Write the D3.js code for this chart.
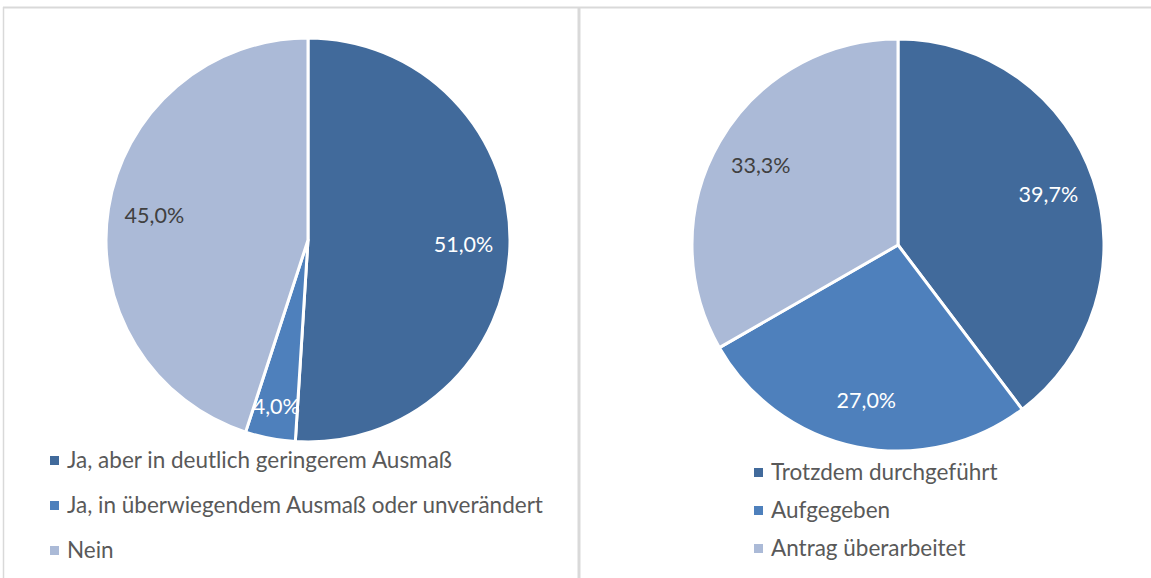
<!DOCTYPE html>
<html>
<head>
<meta charset="utf-8">
<script src="https://cdn.jsdelivr.net/npm/d3@7"></script>
<style>
  body { margin: 0; background: #ffffff; }
  svg text { font-family: Lato, "Open Sans", sans-serif; }
</style>
</head>
<body>
<div id="content"></div>
<script>
// left chart
var leftCategories = ["Ja, aber in deutlich geringerem Ausmaß", "Ja, in überwiegendem Ausmaß oder unverändert", "Nein"];
var leftValues = [51.0, 4.0, 45.0];
// right chart
var rightCategories = ["Trotzdem durchgeführt", "Aufgegeben", "Antrag überarbeitet"];
var rightValues = [39.7, 27.0, 33.3];

var colors = ["#416a9b", "#4e80bc", "#abbad7"];
var labelColors = ["#ffffff", "#ffffff", "#404040"];

var width = 1151, height = 578;

var svg = d3.select("div#content").append("svg")
  .attr("width", width)
  .attr("height", height);

// frame lines
svg.append("line").attr("x1", 3).attr("x2", width).attr("y1", 7.5).attr("y2", 7.5)
  .attr("stroke", "#d9d9d9").attr("stroke-width", 2);
svg.append("line").attr("x1", 3.5).attr("x2", 3.5).attr("y1", 7).attr("y2", height)
  .attr("stroke", "#d9d9d9").attr("stroke-width", 1.5);
svg.append("line").attr("x1", 579).attr("x2", 579).attr("y1", 7).attr("y2", height)
  .attr("stroke", "#d9d9d9").attr("stroke-width", 3);

function fmt(v) {
  return d3.format(".1f")(v).replace(".", ",") + "%";
}

function drawPie(cx, cy, r, categories, values, legendX, legendY, legendStep) {
  var pie = d3.pie().sort(null).value(function(d) { return d; });
  var arc = d3.arc().innerRadius(0).outerRadius(r);

  var g = svg.append("g")
    .attr("transform", "translate(" + cx + "," + cy + ")");

  var slices = pie(values);

  g.selectAll("path")
    .data(slices)
    .enter().append("path")
    .attr("d", arc)
    .attr("fill", function(d, i) { return colors[i]; })
    .attr("stroke", "#ffffff")
    .attr("stroke-width", 3)
    .attr("stroke-linejoin", "round");

  g.selectAll("text")
    .data(slices)
    .enter().append("text")
    .attr("transform", function(d) {
      var k = d.value < 10 ? 0.84 : 0.77;
      var la = d3.arc().innerRadius(r * k).outerRadius(r * k);
      return "translate(" + la.centroid(d) + ")";
    })
    .attr("text-anchor", "middle")
    .attr("dy", "0.35em")
    .attr("fill", function(d, i) { return labelColors[i]; })
    .style("font-size", "21.5px")
    .text(function(d) { return fmt(d.value); });

  var leg = svg.append("g")
    .attr("transform", "translate(" + legendX + "," + legendY + ")");

  var item = leg.selectAll("g")
    .data(categories)
    .enter().append("g")
    .attr("transform", function(d, i) { return "translate(0," + (i * legendStep) + ")"; });

  item.append("rect")
    .attr("x", 0).attr("y", -4.5)
    .attr("width", 9).attr("height", 9)
    .attr("fill", function(d, i) { return colors[i]; });

  item.append("text")
    .attr("x", 17)
    .attr("dy", "0.35em")
    .attr("fill", "#595959")
    .style("font-size", "22.5px")
    .text(function(d) { return d; });
}

drawPie(308, 240, 202, leftCategories, leftValues, 50, 460.5, 45);
drawPie(898, 245, 206, rightCategories, rightValues, 754, 472.5, 38);
</script>
</body>
</html>
